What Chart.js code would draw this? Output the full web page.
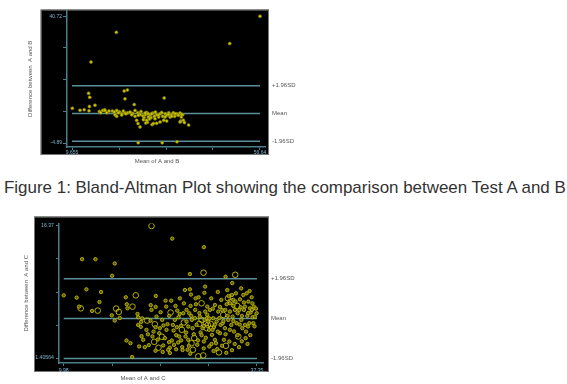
<!DOCTYPE html>
<html><head><meta charset="utf-8">
<script src="https://cdn.jsdelivr.net/npm/chart.js@4.4.1/dist/chart.umd.min.js"></script>
<style>
html,body{margin:0;padding:0;background:#fff;width:567px;height:384px;overflow:hidden;}
#c1{position:absolute;left:0;top:0;}
#c2{position:absolute;left:0;top:212px;}
#cap{position:absolute;left:4px;top:179px;font-family:"Liberation Sans",Arial,sans-serif;font-size:16.95px;color:#333;white-space:nowrap;line-height:18px;}
</style></head><body>
<canvas id="c1" width="300" height="166"></canvas>
<div id="cap">Figure 1: Bland-Altman Plot showing the comparison between Test A and B</div>
<canvas id="c2" width="300" height="172"></canvas>
<script>
// ---------- Chart 1: A vs B ----------
const abX = [56.64,20.73,14.40,49.07,13.80,14.08,22.70,23.50,22.90,32.70,25.20,9.73,11.65,12.70,14.00,15.40,13.90,26.20,32.20,35.90,38.80,
  16.49,16.82,17.32,17.82,18.32,18.91,19.74,20.24,20.82,21.49,22.07,22.49,22.90,23.57,24.16,24.82,25.41,26.07,26.49,26.90,27.32,27.66,27.99,28.32,
  28.66,29.16,29.41,29.82,30.24,30.49,30.82,31.32,31.66,32.07,32.32,32.57,32.99,33.32,33.82,34.16,34.49,34.99,35.32,35.82,36.24,36.66,36.99,37.32,
  37.49,37.74,36.82,25.82,26.16,26.66,28.07,28.99,29.66,30.82,27.49,28.49,26.66,27.91,28.74,29.57,30.41,31.24,32.91,33.74,34.57,35.41,37.07,36.66,
  31.66,29.99,33.32,28.32,20.40,23.15,22.07,20.82,24.57,25.40,26.24,17.90,21.24];
const abY = [40.72,34.93,24.26,30.90,12.99,11.57,13.84,14.20,11.00,11.35,8.97,7.66,6.94,7.10,8.30,8.73,6.73,-4.78,-4.78,-4.43,1.60,
  6.49,6.02,6.85,7.08,6.02,6.61,6.61,6.25,6.85,6.37,5.66,6.61,5.90,6.02,6.25,5.78,6.85,6.02,5.66,6.49,4.95,4.24,5.30,6.13,
  5.66,5.19,4.24,5.90,4.71,6.25,5.30,4.48,5.66,6.13,4.71,3.29,5.66,5.07,6.02,4.48,5.30,6.02,4.71,5.66,5.07,5.90,4.48,5.30,
  3.29,2.46,3.05,3.29,2.11,0.92,2.34,3.76,1.75,2.22,3.53,2.58,5.42,5.89,4.47,5.66,3.88,5.18,4.47,5.42,4.71,5.66,5.42,2.69,
  2.69,2.10,3.05,3.29,5.30,5.66,5.19,4.71,5.30,4.71,5.07,6.85,6.02];
const abTicksX = [9.655, 21.40125, 33.1475, 44.89375, 56.64];
const abTickLabelsX = ['9.655', '', '', '', '56.64'];
const abTicksY = [-4.89, 6.5125, 17.915, 29.3175, 40.72];
const abTickLabelsY = ['-4.89', '', '', '', '40.72'];
const abLimits = [-4.20, 5.74, 15.72];           // lower limit, mean, upper limit

// ---------- Chart 2: A vs C ----------
const acDotX = [25.34,29.83,12.58,14.47,17.21,16.83,27.85,32.90,33.85,
  9.98,11.82,13.19,12.15,14.00,15.04,15.27,16.79,17.21,17.92,18.77,18.91,19.01,18.87,19.43,19.67,20.43,20.52,20.95,20.90,21.00,21.23,20.66,21.47,22.03,
  22.27,22.41,22.98,23.02,22.98,23.50,23.92,24.07,24.40,24.49,24.68,24.92,25.01,25.01,25.44,25.53,25.81,25.91,26.19,26.24,26.43,26.57,26.76,26.81,27.14,
  27.23,27.37,27.37,27.52,27.61,27.85,27.94,28.04,28.13,28.23,28.60,28.65,28.79,28.89,29.08,29.26,29.36,29.64,29.83,29.93,30.02,30.26,30.31,30.54,30.59,
  30.68,30.87,30.97,31.16,31.25,31.39,31.54,31.63,31.72,31.86,32.10,32.20,32.29,32.43,32.67,32.81,33.05,33.14,33.28,33.33,33.43,33.52,33.71,33.80,33.90,
  33.99,34.09,34.23,34.37,34.46,34.61,34.80,34.94,35.03,35.13,35.27,35.41,35.50,35.65,35.74,35.88,35.98,36.12,36.26,36.35,36.45,36.59,36.73,36.92,37.06,37.30,
  20.52,21.70,22.55,23.12,23.59,24.30,24.54,24.77,25.29,25.72,26.05,26.33,26.90,27.61,27.75,28.56,29.83,30.45,31.06,31.39,32.01,32.48,32.86,33.52,33.99,
  34.84,35.22,35.65,36.07,36.64,36.83,
  21.1,21.9,22.3,22.7,23.3,23.7,24.1,24.9,25.2,25.6,26.0,26.4,26.6,27.0,27.3,27.7,28.0,28.4,28.7,29.0,29.2,29.5,29.9,30.1,30.3,30.6,30.9,31.1,31.4,31.8,
  32.1,32.4,32.6,32.9,33.2,33.5,33.8,34.0,34.3,34.6,34.9,35.2,35.5,35.8,36.1,36.4,36.7,37.0,37.2,23.0,24.0,25.9,27.9,29.8,31.2,33.0,34.2,36.0,30.0,31.8,
  35.1,36.3];
const acDotY = [14.94,13.97,12.61,12.61,12.12,10.73,10.92,10.62,9.90,
  8.51,8.25,9.19,7.23,6.74,7.76,8.89,6.25,5.65,5.95,8.29,7.50,7.04,3.39,3.09,1.52,6.40,6.03,5.50,4.94,3.88,3.47,2.72,2.64,2.87,
  5.65,6.86,4.90,8.44,2.23,4.22,5.73,2.83,7.91,7.23,5.24,6.18,1.97,2.57,5.16,4.52,7.31,3.99,3.17,6.03,8.17,5.05,2.64,2.31,9.11,
  3.85,6.86,5.54,2.34,3.47,9.19,7.31,6.18,5.73,4.79,6.86,8.17,5.16,2.91,8.29,6.10,4.30,4.79,3.28,5.73,6.67,5.92,7.23,4.60,2.72,
  6.86,8.17,4.03,5.92,4.90,7.42,3.09,5.54,2.42,6.67,4.22,5.16,7.99,6.86,3.47,4.79,7.50,9.11,5.73,8.44,3.28,6.67,5.16,8.55,6.10,
  7.31,4.41,6.86,8.74,5.35,6.48,2.64,8.06,7.16,5.73,4.79,8.55,6.86,5.16,3.66,8.74,6.18,7.80,5.35,7.04,6.56,8.29,6.03,7.23,6.10,6.48,
  5.16,4.60,3.85,6.10,4.79,3.66,4.60,2.34,3.39,5.73,6.78,3.85,6.48,4.98,6.48,5.92,5.05,5.54,4.60,3.47,5.92,5.35,6.86,7.61,7.99,
  6.86,6.18,7.23,4.98,6.86,5.35,
  5.9,4.1,7.4,4.4,3.5,6.6,5.1,3.2,7.9,2.9,4.9,6.4,3.4,7.6,4.3,2.8,8.6,4.1,7.5,3.4,6.5,4.0,8.8,3.7,6.3,5.9,3.0,7.0,5.2,4.4,
  7.2,2.8,5.6,4.1,6.2,4.6,2.3,5.6,7.8,4.0,5.2,3.3,7.7,4.4,6.5,4.0,7.6,5.0,7.0,7.2,2.1,2.4,1.9,2.5,2.2,2.0,3.0,3.0,9.5,8.9,
  9.3,9.0];
const acRingX = [22.41,29.78,34.27,12.39,14.80,17.40,17.78,19.72,20.19,21.80,22.88,22.79,23.40,23.88,25.11,26.71,28.27,28.46,29.03,29.50,29.74,
  30.12,30.40,31.96,32.57,32.95,33.61,34.70,27.00,28.08,29.17,29.50,30.21,30.78,33.24,34.56];
const acRingY = [16.37,11.07,10.84,7.04,6.78,7.01,6.63,7.23,8.51,5.65,5.24,3.24,2.57,3.81,6.56,4.60,2.34,3.66,1.59,7.61,1.70,
  5.35,5.16,2.04,6.29,2.79,7.80,3.85,5.43,3.09,5.28,5.73,4.79,5.28,8.17,7.31];
const acTicksX = [9.98, 16.8225, 23.665, 30.5075, 37.35];
const acTickLabelsX = ['9.98', '', '', '', '37.35'];
const acTicksY = [1.40564, 5.1467, 8.8878, 12.6289, 16.37];
const acTickLabelsY = ['1.40564', '', '', '', '16.37'];
const acLimits = [1.364, 5.88, 10.39];           // lower limit, mean, upper limit

const limitLabels = ['-1.96SD', 'Mean', '+1.96SD'];

// ---------- styling ----------
const FONT = '"Liberation Sans", Arial, sans-serif';
const AXIS = '#4b7f8b';
const LIMIT = '#5a8e9a';
const TICKC = '#7db6cf';
const LABELC = '#555';
Chart.defaults.font.family = FONT;

const boxPlugin = {
  id: 'blackBox',
  beforeDraw(chart, args, o) {
    const {ctx, chartArea: a} = chart;
    const l = a.left + o.left, t = a.top + o.top, r = a.right + o.right, b = a.bottom + o.bottom;
    ctx.save();
    ctx.fillStyle = '#000';
    ctx.fillRect(l, t, r - l, b - t);
    ctx.strokeStyle = '#777';
    ctx.lineWidth = 1;
    ctx.strokeRect(l + 0.5, t + 0.5, r - l - 1, b - t - 1);
    ctx.restore();
  }
};
const xTitlePlugin = {
  id: 'xTitle',
  afterDraw(chart, args, o) {
    const ctx = chart.ctx;
    ctx.save();
    ctx.font = '6px ' + FONT;
    ctx.fillStyle = LABELC;
    ctx.textAlign = 'center';
    ctx.textBaseline = 'middle';
    ctx.fillText(o.text, o.x, o.y);
    ctx.restore();
  }
};

function pts(xs, ys) { return xs.map((x, i) => ({x, y: ys[i]})); }
function lab(vals, labels) { return v => { const i = vals.findIndex(t => Math.abs(t - v) < 1e-6); return i < 0 ? '' : labels[i]; }; }

function build(id, o) {
  const limitSets = o.limits.map(v => ({
    type: 'line', data: [{x: o.ticksX[0], y: v}, {x: o.ticksX[o.ticksX.length - 1], y: v}],
    borderColor: LIMIT, borderWidth: 1.5, pointRadius: 0, showLine: true, order: 5, yAxisID: 'y'
  }));
  return new Chart(document.getElementById(id), {
    type: 'scatter',
    data: { datasets: o.sets.concat(limitSets) },
    options: {
      responsive: false, animation: false, devicePixelRatio: 1,
      layout: { padding: { top: o.top, left: 0, right: 0, bottom: 0 } },
      plugins: {
        legend: { display: false }, tooltip: { enabled: false },
        blackBox: o.box,
        xTitle: o.xTitle
      },
      scales: {
        x: {
          type: 'linear', min: o.xMin, max: o.xMax,
          afterBuildTicks: s => { s.ticks = o.ticksX.map(v => ({value: v})); },
          afterFit: s => { s.height = o.xHeight; },
          border: { display: true, color: AXIS, width: 1.5 },
          grid: { display: true, drawOnChartArea: false, drawTicks: true, tickLength: 3, color: AXIS, lineWidth: 1 },
          ticks: { color: TICKC, font: { size: o.tickSize }, padding: o.xPad, maxRotation: 0, autoSkip: false, callback: lab(o.ticksX, o.labelsX) }
        },
        y: {
          type: 'linear', position: 'left', min: o.yMin, max: o.yMax,
          afterBuildTicks: s => { s.ticks = o.ticksY.map(v => ({value: v})); },
          afterFit: s => { s.width = o.yWidth; },
          border: { display: true, color: AXIS, width: 1.5 },
          grid: { display: true, drawOnChartArea: false, drawTicks: true, tickLength: o.yTick, color: AXIS, lineWidth: 1 },
          ticks: { color: TICKC, font: { size: o.tickSize }, padding: o.yPad, autoSkip: false, callback: lab(o.ticksY, o.labelsY) },
          title: { display: true, text: o.yTitle, color: LABELC, font: { size: 6 }, padding: { top: o.yTitlePad, bottom: 0 } }
        },
        yR: {
          type: 'linear', position: 'right', min: o.yMin, max: o.yMax,
          afterBuildTicks: s => { s.ticks = o.limits.map(v => ({value: v})); },
          afterFit: s => { s.width = o.rWidth; },
          border: { display: false },
          grid: { display: false, drawTicks: false },
          ticks: { color: LABELC, font: { size: 6 }, padding: o.rPad, autoSkip: false, callback: lab(o.limits, limitLabels) }
        }
      }
    },
    plugins: [boxPlugin, xTitlePlugin]
  });
}

build('c1', {
  sets: [{ data: pts(abX, abY), pointRadius: 1.5, pointBackgroundColor: '#cfc600', pointBorderColor: '#7d7800', pointBorderWidth: 0.6, order: 0 }],
  limits: abLimits, ticksX: abTicksX, labelsX: abTickLabelsX, ticksY: abTicksY, labelsY: abTickLabelsY,
  xMin: 8.405, xMax: 57.89, yMin: -6.31, yMax: 42.75,
  top: 9, xHeight: 19, yWidth: 67, rWidth: 35, rPad: 7, yTick: 4, yPad: 1, xPad: 0, tickSize: 5,
  yTitle: 'Difference between  A and B', yTitlePad: 26.4,
  box: { left: -26.3, top: -1, right: 4, bottom: 8 },
  xTitle: { text: 'Mean of A and B', x: 157, y: 161 }
});

build('c2', {
  sets: [
    { data: pts(acDotX, acDotY), pointRadius: 1.7, pointBackgroundColor: '#5e5a00', pointBorderColor: '#cec600', pointBorderWidth: 0.8, order: 0 },
    { data: pts(acRingX, acRingY), pointRadius: 2.8, pointBackgroundColor: 'rgba(0,0,0,0)', pointBorderColor: '#c8c000', pointBorderWidth: 0.9, order: 1 }
  ],
  limits: acLimits, ticksX: acTicksX, labelsX: acTickLabelsX, ticksY: acTicksY, labelsY: acTickLabelsY,
  xMin: 9.313, xMax: 38.2, yMin: 0.842, yMax: 16.64,
  top: 11, xHeight: 21, yWidth: 59, rWidth: 37, rPad: 8, yTick: 3, yPad: 2, xPad: 1, tickSize: 5.2,
  yTitle: 'Difference between  A and C', yTitlePad: 22.4,
  box: { left: -25, top: -7, right: 6, bottom: 9 },
  xTitle: { text: 'Mean of A and C', x: 143, y: 166 }
});
</script>
</body></html>
